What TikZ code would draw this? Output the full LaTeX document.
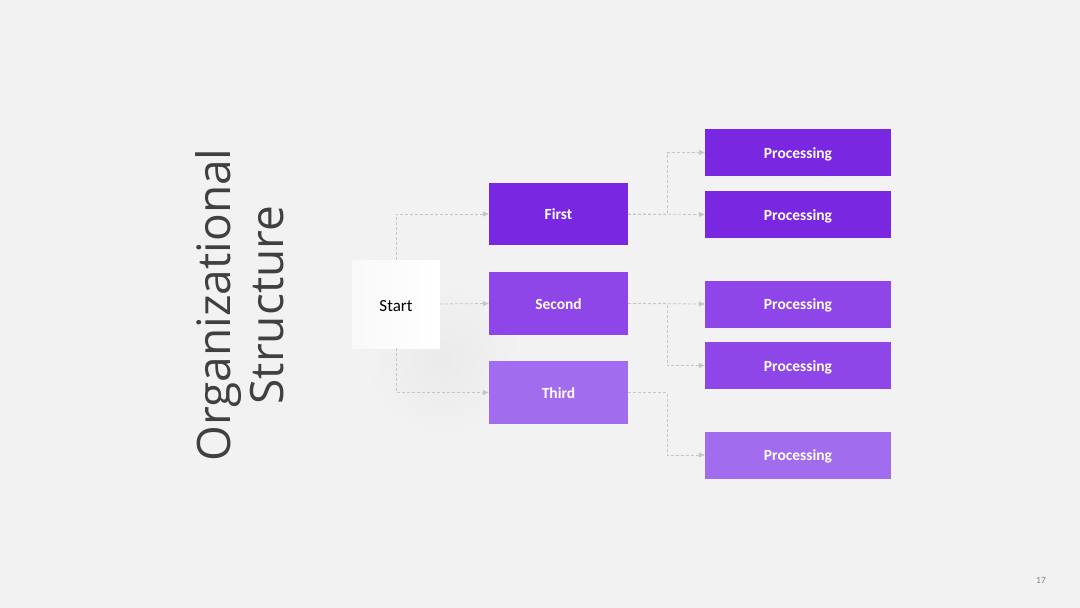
\documentclass[tikz,border=0pt]{standalone}
\usepackage{fontspec}
\setmainfont{Carlito}
\newfontfamily\titlefont{Open Sans}
\usetikzlibrary{arrows.meta}
\definecolor{bg}{HTML}{F2F2F2}
\definecolor{pdark}{HTML}{7A27E1}
\definecolor{pmid}{HTML}{8E46E8}
\definecolor{plight}{HTML}{A26CEF}
\definecolor{conncol}{HTML}{C6C6C6}
\definecolor{titlecol}{HTML}{404040}
\tikzset{
  box/.style={draw=none, text=white, font=\bfseries\fontsize{15.5}{18}\selectfont, inner sep=0pt, text depth=0pt, text height=11pt},
  lvl/.style={box, minimum width=139pt, minimum height=62pt},
  proc/.style={box, minimum width=186pt, minimum height=47pt},
  conn/.style={draw=conncol, line width=0.8pt, dash pattern=on 3pt off 2pt, -{Triangle[length=6pt,width=5pt]}},
}
\begin{document}
\begin{tikzpicture}[x=1pt,y=-1pt]
\fill[bg] (0,0) rectangle (1080,608);
\useasboundingbox (0,0) rectangle (1080,608);
% soft shadow
\shade[inner color=black!8, outer color=bg] (443,360) circle (80);
% start box
\node[inner sep=0pt, minimum width=88pt, minimum height=88pt, shading=axis, shading angle=45, left color=white!95!gray, right color=white] (start) at (396,304) {};
\node[font=\fontsize{17}{20}\selectfont, text=black, inner sep=0pt, text height=12pt, text depth=0pt] (starttxt) at (396,305) {Start};
% level 1
\node[lvl, fill=pdark] (first) at (558.5,214) {First};
\node[lvl, fill=pmid, minimum height=63pt] (second) at (558.5,303.5) {Second};
\node[lvl, fill=plight, minimum height=63pt] (third) at (558.5,392.5) {Third};
% processing
\node[proc, fill=pdark] (p1) at (798,152.5) {Processing};
\node[proc, fill=pdark] (p2) at (798,214.5) {Processing};
\node[proc, fill=pmid] (p3) at (798,304) {Processing};
\node[proc, fill=pmid] (p4) at (798,365.5) {Processing};
\node[proc, fill=plight] (p5) at (798,455) {Processing};
% connectors
\draw[conn] (start.north) |- (first.west);
\draw[conn] (start.east) -- (second.west);
\draw[conn] (start.south) |- (third.west);
\draw[conn] (first.east) -- ++(39,0) |- (p1.west);
\draw[conn] (first.east) -- (p2.west);
\draw[conn] (second.east) -- (p3.west);
\draw[conn] (second.east) -- ++(39,0) |- (p4.west);
\draw[conn] (third.east) -- ++(39,0) |- (p5.west);
% title
\node[rotate=90, font=\titlefont\fontsize{46}{53}\selectfont, text=titlecol, align=center] (title) at (240,305) {Organizational\\Structure};
% page number
\node[font=\fontsize{9.5}{11}\selectfont, text=gray] (pnum) at (1041,580) {17};
\end{tikzpicture}
\end{document}
